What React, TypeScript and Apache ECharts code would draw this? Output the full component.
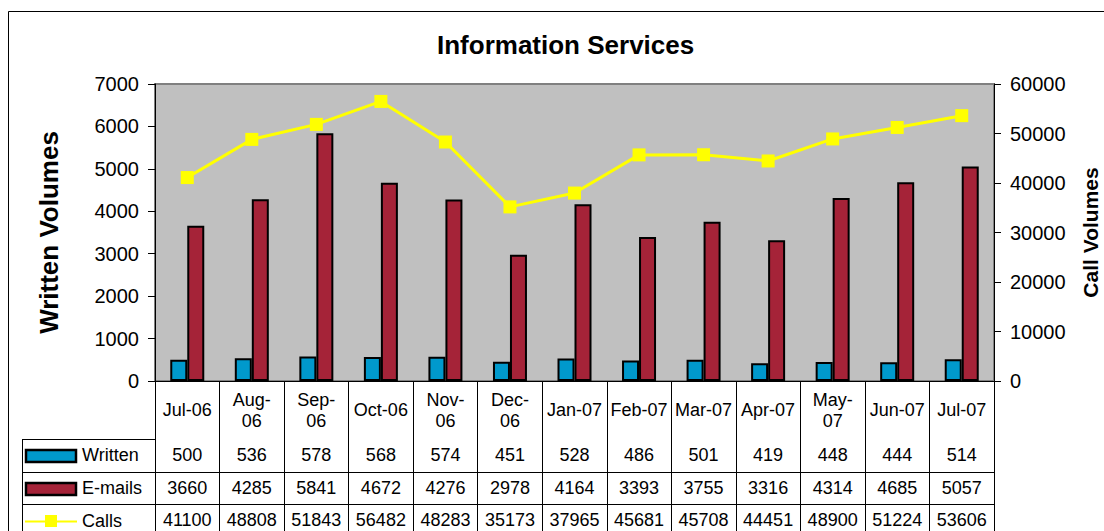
import React, { useEffect, useRef } from "react";
import * as echarts from "echarts";

const categories = ["Jul-06", "Aug-06", "Sep-06", "Oct-06", "Nov-06", "Dec-06", "Jan-07", "Feb-07", "Mar-07", "Apr-07", "May-07", "Jun-07", "Jul-07"];
const categoryLabels = ["Jul-06", "Aug-\n06", "Sep-\n06", "Oct-06", "Nov-\n06", "Dec-\n06", "Jan-07", "Feb-07", "Mar-07", "Apr-07", "May-\n07", "Jun-07", "Jul-07"];
const written = [500, 536, 578, 568, 574, 451, 528, 486, 501, 419, 448, 444, 514];
const emails = [3660, 4285, 5841, 4672, 4276, 2978, 4164, 3393, 3755, 3316, 4314, 4685, 5057];
const calls = [41100, 48808, 51843, 56482, 48283, 35173, 37965, 45681, 45708, 44451, 48900, 51224, 53606];
const seriesNames = ["Written", "E-mails", "Calls"];
const leftAxis = { min: 0, max: 7000, interval: 1000 };
const rightAxis = { min: 0, max: 60000, interval: 10000 };

const FONT = "'Liberation Sans', Arial, sans-serif";
const BLUE = "#0099CC";
const RED = "#A52338";
const YELLOW = "#FFFF00";

export default function App() {
  const ref = useRef<HTMLDivElement>(null);
  useEffect(() => {
    if (!ref.current) return;
    const chart = echarts.init(ref.current, undefined, { renderer: "svg" });
    const gridLeft = 155, gridRight = 994, gridTop = 84, gridBottom = 381;
    const rowLines = [439, 472, 504];
    const rowAxis = (idx: number, values: number[]) => ({
      type: "category",
      data: categories,
      position: "bottom",
      offset: rowLines[idx] - gridBottom,
      axisLine: { show: true, lineStyle: { color: "#000", width: 1 } },
      axisTick: { show: false },
      axisLabel: {
        interval: 0,
        margin: 16,
        verticalAlign: "middle",
        fontSize: 18,
        fontFamily: FONT,
        color: "#000",
        formatter: (_v: string, i: number) => String(values[i]),
      },
    });
    const option: any = {
      animation: false,
      backgroundColor: "#fff",
      title: {
        text: "Information Services",
        left: 432,
        top: 27,
        textStyle: { fontSize: 26, fontWeight: "bold", fontFamily: FONT, color: "#000" },
      },
      grid: {
        left: gridLeft,
        right: 1104 - gridRight,
        top: gridTop,
        bottom: 531 - gridBottom,
        outerBoundsMode: "none",
        containLabel: false,
        show: true,
        backgroundColor: "#C0C0C0",
        borderColor: "#808080",
        borderWidth: 2,
      },
      xAxis: [
        {
          type: "category",
          data: categories,
          position: "bottom",
          axisLine: { show: true, lineStyle: { color: "#000", width: 1 } },
          axisTick: { show: true, length: 160, lineStyle: { color: "#000", width: 1 } },
          axisLabel: {
            interval: 0,
            margin: 29,
            verticalAlign: "middle",
            fontSize: 18,
            lineHeight: 21,
            fontFamily: FONT,
            color: "#000",
            formatter: (_v: string, i: number) => categoryLabels[i],
          },
          splitLine: { show: false },
        },
        rowAxis(0, written),
        rowAxis(1, emails),
        rowAxis(2, calls),
      ],
      yAxis: [
        {
          type: "value",
          position: "left",
          ...leftAxis,
          name: "Written Volumes",
          nameLocation: "middle",
          nameRotate: 90,
          nameGap: 93,
          nameTextStyle: { fontSize: 26, fontWeight: "bold", fontFamily: FONT, color: "#000" },
          axisLine: { show: true, lineStyle: { color: "#000", width: 1 } },
          axisTick: { show: true, length: 7, lineStyle: { color: "#000" } },
          axisLabel: { fontSize: 20, fontFamily: FONT, color: "#000", margin: 16, formatter: (v: number) => String(v) },
          splitLine: { show: false },
        },
        {
          type: "value",
          position: "right",
          ...rightAxis,
          name: "Call Volumes",
          nameLocation: "middle",
          nameRotate: 90,
          nameGap: 86,
          nameTextStyle: { fontSize: 21, fontWeight: "bold", fontFamily: FONT, color: "#000" },
          axisLine: { show: true, lineStyle: { color: "#000", width: 1 } },
          axisTick: { show: true, length: 7, lineStyle: { color: "#000" } },
          axisLabel: { fontSize: 20, fontFamily: FONT, color: "#000", margin: 16, formatter: (v: number) => String(v) },
          splitLine: { show: false },
        },
      ],
      series: [
        {
          name: seriesNames[0],
          type: "bar",
          xAxisIndex: 0,
          yAxisIndex: 0,
          data: written,
          barWidth: 17,
          barGap: "0%",
          itemStyle: { color: BLUE, borderColor: "#000", borderWidth: 2 },
        },
        {
          name: seriesNames[1],
          type: "bar",
          xAxisIndex: 0,
          yAxisIndex: 0,
          data: emails,
          barWidth: 17,
          barGap: "0%",
          itemStyle: { color: RED, borderColor: "#000", borderWidth: 2 },
        },
        {
          name: seriesNames[2],
          type: "line",
          xAxisIndex: 0,
          yAxisIndex: 1,
          data: calls,
          symbol: "rect",
          symbolSize: 13,
          lineStyle: { color: YELLOW, width: 3 },
          itemStyle: { color: YELLOW },
          z: 5,
        },
      ],
      graphic: [
        {
          type: "rect",
          shape: { x: 8.5, y: 11.5, width: 1300, height: 700 },
          style: { fill: "none", stroke: "#000", lineWidth: 1 },
          silent: true,
        },
        ...rowLines.map((y) => ({
          type: "line",
          shape: { x1: 22, y1: y + 0.5, x2: gridLeft, y2: y + 0.5 },
          style: { stroke: "#000", lineWidth: 1 },
          silent: true,
        })),
        {
          type: "line",
          shape: { x1: 22.5, y1: rowLines[0], x2: 22.5, y2: 540 },
          style: { stroke: "#000", lineWidth: 1 },
          silent: true,
        },
        {
          type: "rect",
          shape: { x: 26, y: 450, width: 50, height: 12 },
          style: { fill: BLUE, stroke: "#000", lineWidth: 2.5 },
          silent: true,
        },
        {
          type: "rect",
          shape: { x: 26, y: 483, width: 50, height: 12 },
          style: { fill: RED, stroke: "#000", lineWidth: 2.5 },
          silent: true,
        },
        {
          type: "line",
          shape: { x1: 25, y1: 521.5, x2: 77, y2: 521.5 },
          style: { stroke: YELLOW, lineWidth: 2 },
          silent: true,
        },
        {
          type: "rect",
          shape: { x: 45, y: 515, width: 12, height: 12 },
          style: { fill: YELLOW },
          silent: true,
        },
        ...seriesNames.map((n, i) => ({
          type: "text",
          x: 82,
          y: [455, 488, 521][i],
          style: { text: n, fontSize: 18, fontFamily: FONT, fill: "#000", textVerticalAlign: "middle", textAlign: "left" },
          silent: true,
        })),
      ],
    };
    chart.setOption(option);
    return () => chart.dispose();
  }, []);
  return <div ref={ref} style={{ position: "fixed", left: 0, top: 0, width: 1104, height: 531 }} />;
}
